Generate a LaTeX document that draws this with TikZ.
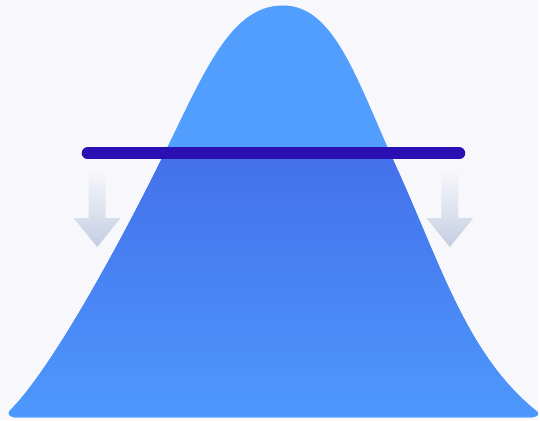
\documentclass[tikz,border=0pt]{standalone}
\usepackage{xcolor}
\usepackage{tikz}
\usetikzlibrary{calc}
\definecolor{pagebg}{HTML}{F8F8FC}
\definecolor{bellblue}{HTML}{519EFF}
\definecolor{belldeep}{HTML}{4470EA}
\definecolor{bellfoot}{HTML}{4D99FD}
\definecolor{cutbar}{HTML}{2A0FB2}
\definecolor{dropgray}{HTML}{C3CEE2}

\newcommand{\bellpath}{(17,419) .. controls (9,419) and (7,415) .. (10,412)
  .. controls (50,372) and (113,258) .. (158,168)
  .. controls (203,78) and (229,5.5) .. (284,5.5)
  .. controls (336,5.5) and (358,80) .. (398,168)
  .. controls (443,267) and (469,357) .. (539,413)
  .. controls (542,415.5) and (540,419) .. (531,419) -- cycle}

\begin{document}
\begin{tikzpicture}[x=1pt, y=-1pt,
  drop/.style={top color=pagebg, middle color=dropgray, bottom color=dropgray},
  bar/.style={line width=12pt, line cap=round, draw=cutbar},
]
  \fill[pagebg] (0,0) rectangle (540,422);
  \fill[bellblue] \bellpath;
  % deeper band under the bar
  \begin{scope}
    \clip \bellpath;
    \shade[top color=belldeep, bottom color=bellfoot] (0,154) rectangle (540,422);
  \end{scope}
  \foreach \ax in {97.5, 451.5} {
    \shade[drop] (\ax-8.5,170) -- (\ax+8.5,170) -- (\ax+8.5,219) -- (\ax+23.5,219)
      -- (\ax,248) -- (\ax-23.5,219) -- (\ax-8.5,219) -- cycle;
  }
  \coordinate (barL) at (88,154);
  \coordinate (barR) at (461,154);
  \draw[bar] (barL) -- (barR);
\end{tikzpicture}
\end{document}
